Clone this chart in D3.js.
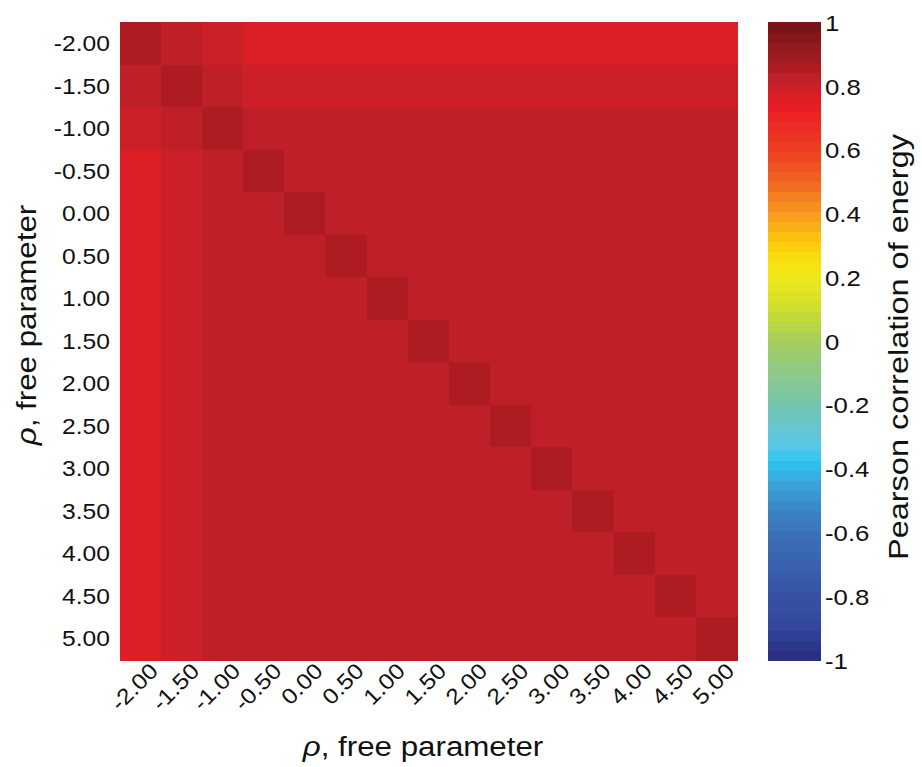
<!DOCTYPE html>
<html>
<head>
<meta charset="utf-8">
<script src="https://cdn.jsdelivr.net/npm/d3@7"></script>
<style>
  html, body { margin: 0; padding: 0; background: #ffffff; }
  svg { display: block; }
  text { font-family: "Liberation Sans", Arial, Helvetica, sans-serif; fill: #111; }
</style>
</head>
<body>
<svg id="chart" width="922" height="767"></svg>
<script>
// Parameter values shared by both axes
const rhoValues = [-2, -1.5, -1, -0.5, 0, 0.5, 1, 1.5, 2, 2.5, 3, 3.5, 4, 4.5, 5];
const rhoLabels = ["-2.00", "-1.50", "-1.00", "-0.50", "0.00", "0.50", "1.00", "1.50",
                   "2.00", "2.50", "3.00", "3.50", "4.00", "4.50", "5.00"];

// Pearson correlation of energy, one row per y parameter (top to bottom)
const correlation = [
  [0.86, 0.83, 0.80, 0.77, 0.77, 0.77, 0.77, 0.77, 0.77, 0.77, 0.77, 0.77, 0.77, 0.77, 0.77],
  [0.83, 0.86, 0.83, 0.80, 0.80, 0.80, 0.80, 0.80, 0.80, 0.80, 0.80, 0.80, 0.80, 0.80, 0.80],
  [0.80, 0.83, 0.86, 0.83, 0.83, 0.83, 0.83, 0.83, 0.83, 0.83, 0.83, 0.83, 0.83, 0.83, 0.83],
  [0.77, 0.80, 0.83, 0.86, 0.83, 0.83, 0.83, 0.83, 0.83, 0.83, 0.83, 0.83, 0.83, 0.83, 0.83],
  [0.77, 0.80, 0.83, 0.83, 0.86, 0.83, 0.83, 0.83, 0.83, 0.83, 0.83, 0.83, 0.83, 0.83, 0.83],
  [0.77, 0.80, 0.83, 0.83, 0.83, 0.86, 0.83, 0.83, 0.83, 0.83, 0.83, 0.83, 0.83, 0.83, 0.83],
  [0.77, 0.80, 0.83, 0.83, 0.83, 0.83, 0.86, 0.83, 0.83, 0.83, 0.83, 0.83, 0.83, 0.83, 0.83],
  [0.77, 0.80, 0.83, 0.83, 0.83, 0.83, 0.83, 0.86, 0.83, 0.83, 0.83, 0.83, 0.83, 0.83, 0.83],
  [0.77, 0.80, 0.83, 0.83, 0.83, 0.83, 0.83, 0.83, 0.86, 0.83, 0.83, 0.83, 0.83, 0.83, 0.83],
  [0.77, 0.80, 0.83, 0.83, 0.83, 0.83, 0.83, 0.83, 0.83, 0.86, 0.83, 0.83, 0.83, 0.83, 0.83],
  [0.77, 0.80, 0.83, 0.83, 0.83, 0.83, 0.83, 0.83, 0.83, 0.83, 0.86, 0.83, 0.83, 0.83, 0.83],
  [0.77, 0.80, 0.83, 0.83, 0.83, 0.83, 0.83, 0.83, 0.83, 0.83, 0.83, 0.86, 0.83, 0.83, 0.83],
  [0.77, 0.80, 0.83, 0.83, 0.83, 0.83, 0.83, 0.83, 0.83, 0.83, 0.83, 0.83, 0.86, 0.83, 0.83],
  [0.77, 0.80, 0.83, 0.83, 0.83, 0.83, 0.83, 0.83, 0.83, 0.83, 0.83, 0.83, 0.83, 0.86, 0.83],
  [0.77, 0.80, 0.83, 0.83, 0.83, 0.83, 0.83, 0.83, 0.83, 0.83, 0.83, 0.83, 0.83, 0.83, 0.86]
];

// Colour map anchor stops (value -> colour), sampled into discrete levels
const colorStops = [-1.0, -0.98, -0.94, -0.9, -0.8, -0.7, -0.6, -0.5, -0.44, -0.38, -0.34, -0.28,
                    -0.2, -0.1, 0.0, 0.08, 0.15, 0.22, 0.28, 0.33, 0.38, 0.44, 0.5, 0.6,
                    0.703, 0.734, 0.766, 0.797, 0.828, 0.859, 0.891, 0.922, 0.953, 0.984, 1.0];
const colorValues = ["#2b2e7e", "#2b2f80", "#2d3a91", "#33469b", "#3752a3", "#3a61ad", "#3b72b8",
                     "#3b8fcb", "#3ba6dc", "#2cc3f1", "#4fc8ea", "#66c6d4", "#75c5ae", "#8dc98b",
                     "#a6cd5e", "#c3da37", "#dfe323", "#f3ea18", "#fdd70a", "#fcc00f", "#f9a51a",
                     "#f5851f", "#f26522", "#ee3e23", "#ec2424", "#e91d25", "#dc1f26", "#cc1f27",
                     "#bf1f26", "#ae1c22", "#a01b20", "#931a1e", "#86171b", "#7a1416", "#7a1416"];
const colorLevels = 64;

const cbTickValues = [1, 0.8, 0.6, 0.4, 0.2, 0, -0.2, -0.4, -0.6, -0.8, -1];
const cbTickLabels = ["1", "0.8", "0.6", "0.4", "0.2", "0", "-0.2", "-0.4", "-0.6", "-0.8", "-1"];

const axisTitle = "free parameter";
const colorbarTitle = "Pearson correlation of energy";

// ---- layout ----
const plot = { left: 119.5, right: 737, top: 22.3, bottom: 660 };
const bar = { left: 767.5, right: 821, top: 22.3, bottom: 660 };
const stretch = 1.12;   // wide glyph proportions of the labels

const svg = d3.select("#chart");

const x = d3.scaleBand().domain(rhoLabels).range([plot.left, plot.right]).padding(0);
const y = d3.scaleBand().domain(rhoLabels).range([plot.top, plot.bottom]).padding(0);

// continuous map, then quantised into fixed levels
const cmap = d3.scaleLinear().domain(colorStops).range(colorValues)
  .interpolate(d3.interpolateRgb).clamp(true);
const levelColors = d3.range(colorLevels).map(i => cmap(-1 + (i + 0.5) * 2 / colorLevels));
const color = d3.scaleQuantize().domain([-1, 1]).range(levelColors);

// ---- heatmap cells ----
const cells = [];
correlation.forEach((row, i) => row.forEach((v, j) => cells.push({ r: rhoLabels[i], c: rhoLabels[j], v })));

svg.append("g").attr("shape-rendering", "crispEdges")
  .selectAll("rect").data(cells).join("rect")
  .attr("x", d => x(d.c))
  .attr("y", d => y(d.r))
  .attr("width", x.bandwidth() + 0.5)
  .attr("height", y.bandwidth() + 0.5)
  .attr("fill", d => color(d.v));

// ---- y axis ----
const yAxis = svg.append("g")
  .attr("transform", `translate(${plot.left},0)`)
  .call(d3.axisLeft(y).tickSize(0).tickPadding(0));
yAxis.select(".domain").remove();
yAxis.selectAll(".tick text")
  .attr("x", null).attr("dy", null)
  .attr("text-anchor", "end")
  .attr("dominant-baseline", "central")
  .attr("transform", `translate(-9.5,0) scale(${stretch},1)`)
  .style("font-size", "22px").style("fill", "#111");

// ---- x axis ----
const xAxis = svg.append("g")
  .attr("transform", `translate(0,${plot.bottom})`)
  .call(d3.axisBottom(x).tickSize(0).tickPadding(0));
xAxis.select(".domain").remove();
xAxis.selectAll(".tick text")
  .attr("y", null).attr("dy", null)
  .attr("text-anchor", "end")
  .attr("dominant-baseline", "central")
  .attr("transform", `translate(14,7) rotate(-45) scale(${stretch},1)`)
  .style("font-size", "22px").style("fill", "#111");

// ---- axis titles ----
function rhoTitle(g) {
  g.append("tspan").style("font-style", "italic").text("\u03C1");
  g.append("tspan").text(", " + axisTitle);
}
svg.append("text")
  .attr("text-anchor", "middle")
  .attr("transform", `translate(423,756) scale(${stretch + 0.04},1)`)
  .style("font-size", "27px")
  .call(rhoTitle);

svg.append("text")
  .attr("text-anchor", "middle")
  .attr("transform", `translate(36,325) rotate(-90) scale(${stretch + 0.04},1)`)
  .style("font-size", "27px")
  .call(rhoTitle);

// ---- colour bar ----
const cbY = d3.scaleLinear().domain([-1, 1]).range([bar.bottom, bar.top]);
const step = 2 / colorLevels;
svg.append("g").attr("shape-rendering", "crispEdges")
  .selectAll("rect").data(levelColors).join("rect")
  .attr("x", bar.left)
  .attr("y", (d, i) => cbY(-1 + (i + 1) * step))
  .attr("width", bar.right - bar.left)
  .attr("height", (d, i) => cbY(-1 + i * step) - cbY(-1 + (i + 1) * step) + 0.5)
  .attr("fill", d => d);

const cbAxis = svg.append("g")
  .attr("transform", `translate(${bar.right},0)`)
  .call(d3.axisRight(cbY).tickValues(cbTickValues)
    .tickFormat((d, i) => cbTickLabels[i]).tickSize(0).tickPadding(0));
cbAxis.select(".domain").remove();
cbAxis.selectAll(".tick text")
  .attr("x", null).attr("dy", null)
  .attr("text-anchor", "start")
  .attr("dominant-baseline", "central")
  .attr("transform", `translate(4,0) scale(${stretch},1)`)
  .style("font-size", "23px").style("fill", "#111");

svg.append("text")
  .attr("text-anchor", "middle")
  .attr("transform", `translate(908,347) rotate(-90) scale(${stretch + 0.04},1)`)
  .style("font-size", "28px")
  .text(colorbarTitle);
</script>
</body>
</html>
